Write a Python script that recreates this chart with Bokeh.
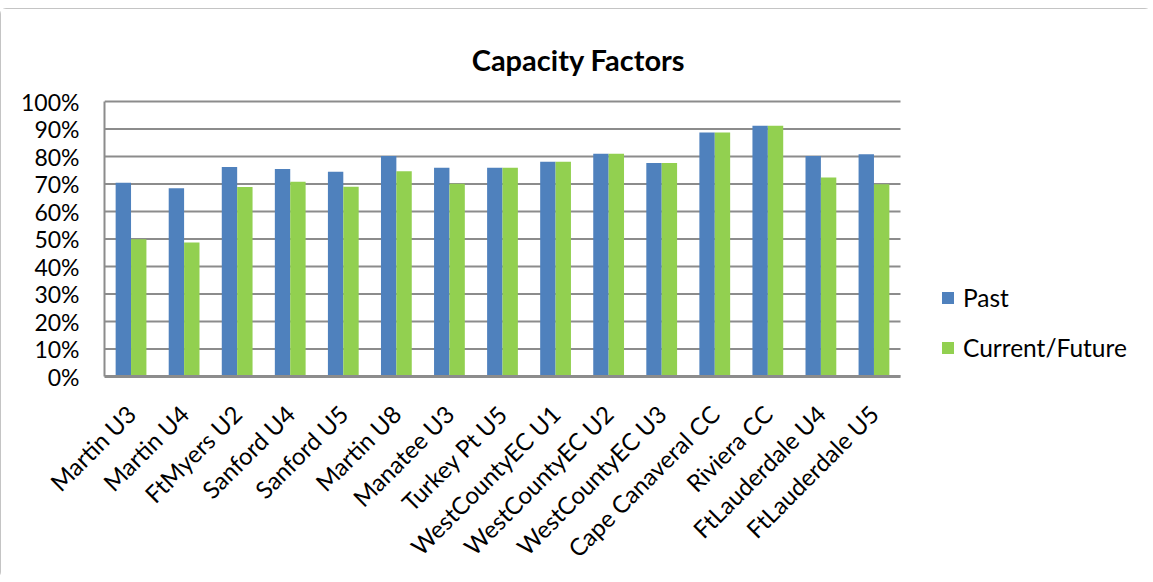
from bokeh.plotting import figure
from bokeh.models import (Range1d, NumeralTickFormatter, FixedTicker,
                          Legend, LegendItem, Label, ColumnDataSource)
from bokeh.embed import file_html
from bokeh.resources import INLINE
import math

categories = ["Martin U3", "Martin U4", "FtMyers U2", "Sanford U4", "Sanford U5",
              "Martin U8", "Manatee U3", "Turkey Pt U5", "WestCountyEC U1",
              "WestCountyEC U2", "WestCountyEC U3", "Cape Canaveral CC",
              "Riviera CC", "FtLauderdale U4", "FtLauderdale U5"]
past = [0.705, 0.685, 0.762, 0.755, 0.745, 0.802, 0.759, 0.759, 0.781,
        0.810, 0.776, 0.887, 0.912, 0.802, 0.808]
current_future = [0.499, 0.487, 0.689, 0.708, 0.690, 0.746, 0.701, 0.759, 0.781,
                  0.810, 0.776, 0.887, 0.912, 0.724, 0.699]
y_ticks = [0.0, 0.1, 0.2, 0.3, 0.4, 0.5, 0.6, 0.7, 0.8, 0.9, 1.0]

FONT = "Lato"
BLUE = "#4F81BD"
GREEN = "#92D050"
GREY = "#8c8c8c"

n = len(categories)
centers = [i + 0.5 for i in range(n)]
BW = 0.29
src = ColumnDataSource(dict(xp=[c - BW / 2 for c in centers],
                            xc=[c + BW / 2 for c in centers],
                            past=past, cf=current_future))

# Page layout (px): plot area 104..900 x 101..376; the frame is extended to the
# right (legend) and upward (title) so those texts sit inside it.
TOP = 8
W, H = 1151, 570
PL, PR, PT, PB = 104, 900, 101, 376      # plot area on the page
FR, FT = 1140, 20                        # extended frame right / top on the page
x_end = n * (FR - PL) / (PR - PL)
y_end = (PB - FT) / (PB - PT)

p = figure(width=W, height=H, x_range=Range1d(0, x_end), y_range=Range1d(0, y_end),
           output_backend="svg", toolbar_location=None,
           min_border_left=PL, min_border_top=FT - TOP, min_border_right=W - FR,
           min_border_bottom=H - (PB - TOP))
p.styles = {"outline": "2px solid #b0b0b0", "outline-offset": "-2px",
            "border-radius": "6px", "margin-top": f"{TOP}px"}

# horizontal gridlines only across the category area
p.segment(x0=[0] * len(y_ticks), x1=[n] * len(y_ticks), y0=y_ticks, y1=y_ticks,
          line_color=GREY, line_width=2)

r1 = p.vbar(x="xp", top="past", width=BW, source=src, fill_color=BLUE, line_color=None)
r2 = p.vbar(x="xc", top="cf", width=BW, source=src, fill_color=GREEN, line_color=None)

p.outline_line_color = None
p.xgrid.grid_line_color = None
p.ygrid.grid_line_color = None

p.yaxis.ticker = FixedTicker(ticks=y_ticks)
p.yaxis.bounds = (0, 1)
p.yaxis.formatter = NumeralTickFormatter(format="0%")
p.yaxis.axis_line_color = GREY
p.yaxis.axis_line_width = 2
p.yaxis.major_tick_line_color = None
p.yaxis.minor_tick_line_color = None
p.yaxis.major_label_standoff = 19
p.yaxis.major_label_text_font = FONT
p.yaxis.major_label_text_font_size = "23px"
p.yaxis.major_label_text_color = "#000000"

p.xaxis.ticker = FixedTicker(ticks=centers)
p.xaxis.bounds = (0, n)
p.xaxis.major_label_overrides = {c: name for c, name in zip(centers, categories)}
p.xaxis.axis_line_color = GREY
p.xaxis.axis_line_width = 3
p.xaxis.major_tick_line_color = None
p.xaxis.minor_tick_line_color = None
p.xaxis.major_label_orientation = math.pi / 4
p.xaxis.major_label_standoff = 27
p.xaxis.major_label_text_font = FONT
p.xaxis.major_label_text_font_size = "24px"
p.xaxis.major_label_text_color = "#000000"

title = Label(x=578 - PL, y=PB - 59, x_units="screen", y_units="screen",
              text="Capacity Factors", text_font=FONT, text_font_size="29px",
              text_font_style="bold", text_color="#000000",
              text_align="center", text_baseline="alphabetic")
p.add_layout(title)

legend = Legend(items=[LegendItem(label="Past", renderers=[r1]),
                       LegendItem(label="Current/Future", renderers=[r2])],
                location=(836, 14), orientation="vertical",
                glyph_width=15, glyph_height=15, label_standoff=8, spacing=21,
                padding=0, margin=0, border_line_color=None,
                background_fill_alpha=0,
                label_text_font=FONT, label_text_font_size="24.5px",
                label_text_color="#000000")
p.add_layout(legend)

open("out.html", "w").write(file_html(p, INLINE))
